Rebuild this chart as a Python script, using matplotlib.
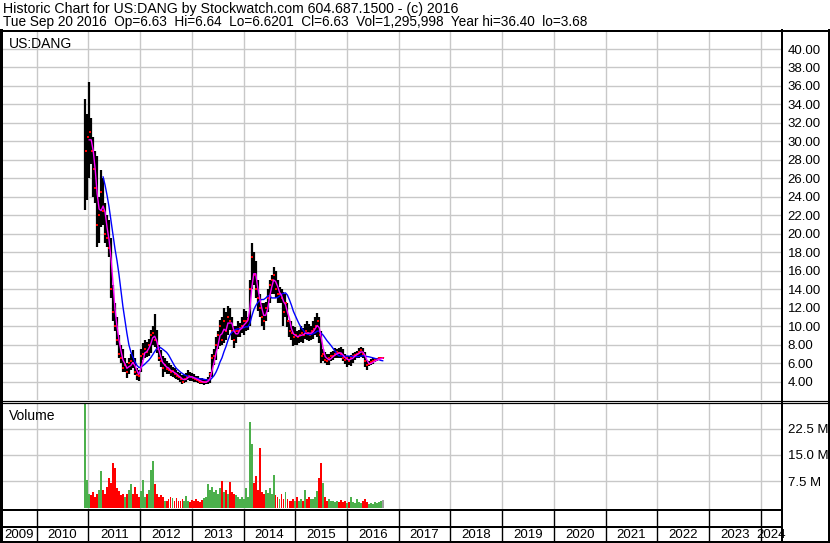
import numpy as np
import pandas as pd
import matplotlib
matplotlib.use('Agg')
import matplotlib.pyplot as plt
from matplotlib.lines import Line2D

plt.rcParams['font.family'] = ['Liberation Sans', 'DejaVu Sans']

# biweekly bars from 2010-12-10 (prices in USD, volume in millions)
high = [34.6, 33.0, 36.4, 32.5, 30.5, 29.0, 28.4, 24.0, 26.9, 26.0,
        23.3, 22.0, 21.5, 19.5, 14.5, 12.5, 11.0, 9.0, 8.0, 7.5,
        6.5, 6.0, 6.5, 7.0, 7.4, 6.5, 5.5, 5.2, 7.5, 8.2,
        8.5, 8.3, 8.6, 9.6, 10.0, 11.3, 9.6, 8.0, 7.4, 6.8,
        6.5, 6.2, 6.0, 5.8, 5.6, 5.5, 5.2, 5.0, 4.9, 4.7,
        4.8, 4.9, 5.2, 5.0, 4.9, 4.8, 4.6, 4.6, 4.4, 4.4,
        4.3, 4.3, 4.5, 5.0, 7.0, 7.5, 8.8, 9.5, 10.7, 11.0,
        12.0, 11.5, 12.2, 12.0, 11.0, 10.0, 10.0, 10.5, 10.3, 11.0,
        11.9, 11.6, 11.0, 15.0, 19.0, 18.0, 17.0, 15.0, 13.5, 12.5,
        12.5, 12.6, 14.0, 15.0, 15.5, 16.4, 16.0, 15.0, 14.2, 14.0,
        13.7, 13.5, 12.5, 10.7, 10.5, 10.0, 9.9, 9.5, 9.6, 10.0,
        9.8, 10.2, 10.5, 10.2, 10.0, 10.5, 11.0, 11.4, 11.0, 9.5,
        7.5, 7.2, 7.0, 7.0, 7.2, 7.3, 7.6, 7.5, 7.6, 7.7,
        7.5, 7.0, 6.8, 6.8, 6.9, 7.1, 7.2, 7.3, 7.6, 7.7,
        7.6, 7.2, 6.3, 6.2, 6.4, 6.5, 6.5, 6.6, 6.7, 6.7,
        6.7]
low = [22.6, 23.7, 26.0, 27.5, 24.0, 23.3, 18.6, 19.0, 20.7, 21.0,
       19.0, 18.6, 17.5, 13.0, 10.5, 9.5, 8.0, 6.5, 6.0, 5.0,
       5.0, 4.4, 4.8, 5.3, 5.5, 4.7, 4.2, 4.1, 5.0, 6.3,
       6.5, 6.7, 6.8, 7.1, 8.0, 7.7, 7.1, 6.2, 5.6, 4.5,
       5.0, 4.8, 4.8, 4.6, 4.5, 4.4, 4.3, 4.2, 4.0, 3.7,
       3.8, 4.0, 4.2, 4.1, 4.1, 4.0, 3.9, 3.8, 3.7, 3.7,
       3.6, 3.7, 3.7, 3.8, 4.5, 5.8, 6.3, 7.5, 7.8, 8.0,
       8.2, 8.5, 9.0, 9.6, 8.5, 7.6, 8.2, 8.8, 8.8, 9.2,
       9.0, 9.5, 9.6, 10.0, 14.0, 14.5, 13.0, 11.6, 11.0, 10.0,
       9.6, 10.5, 11.5, 12.5, 13.5, 13.5, 13.0, 12.5, 12.5, 12.5,
       10.0, 11.0, 9.9, 8.8, 8.5, 7.8, 8.0, 8.0, 8.2, 8.3,
       8.2, 8.6, 8.5, 8.4, 8.5, 8.6, 9.0, 8.8, 8.2, 6.0,
       6.2, 6.0, 5.8, 5.8, 6.2, 6.3, 6.5, 6.5, 6.6, 6.6,
       6.2, 5.9, 5.6, 5.8, 5.7, 6.0, 6.3, 6.5, 6.6, 6.7,
       6.5, 5.6, 5.3, 5.7, 5.8, 5.9, 6.1, 6.2, 6.3, 6.4,
       6.5]
close = [29.0, 30.5, 31.0, 29.0, 27.0, 25.0, 21.0, 22.0, 24.5, 22.5,
         20.0, 19.5, 18.5, 14.0, 11.5, 10.0, 8.5, 7.0, 6.5, 5.5,
         5.8, 5.0, 6.0, 6.2, 6.0, 5.0, 4.7, 4.6, 6.8, 7.0,
         7.5, 7.2, 8.0, 9.0, 9.2, 8.5, 7.5, 6.5, 6.2, 5.5,
         5.8, 5.4, 5.2, 5.0, 5.1, 4.8, 4.6, 4.5, 4.3, 4.0,
         4.3, 4.5, 4.6, 4.5, 4.4, 4.3, 4.2, 4.1, 4.0, 3.9,
         3.9, 4.0, 4.2, 4.8, 6.5, 6.8, 8.0, 9.0, 10.0, 8.5,
         10.5, 9.5, 11.0, 10.5, 9.5, 8.5, 9.5, 9.5, 9.8, 10.0,
         10.5, 10.5, 10.8, 14.0, 17.5, 15.5, 14.0, 13.0, 12.0, 11.0,
         10.5, 12.0, 13.0, 14.5, 15.0, 15.5, 14.0, 13.5, 13.5, 13.0,
         11.5, 12.5, 10.5, 9.5, 9.2, 8.8, 9.0, 8.8, 9.0, 9.2,
         9.0, 9.5, 9.2, 9.0, 9.5, 9.7, 10.0, 10.5, 9.0, 6.8,
         7.0, 6.3, 6.2, 6.5, 6.8, 6.8, 7.0, 7.2, 7.1, 7.0,
         6.5, 6.3, 6.5, 6.2, 6.6, 6.8, 6.9, 7.0, 7.2, 7.4,
         7.0, 6.2, 5.8, 5.9, 6.1, 6.2, 6.3, 6.4, 6.5, 6.5,
         6.6]
volume = [36, 8, 4, 3.5, 4.5, 3, 4, 5, 10.5, 5,
          4, 6, 8.4, 7, 12.7, 11.2, 5.6, 4.7, 3.5, 4,
          3, 4, 5, 6.7, 4, 6, 4, 3, 4.7, 8,
          3, 4, 5, 10.8, 13.4, 6.6, 4, 3, 3.5, 3,
          2, 2, 2.5, 3, 2.8, 2, 2.8, 2, 1.8, 2.5,
          2, 3.3, 2, 1.5, 2.2, 1.8, 2.5, 2, 1.5, 2.2,
          2.8, 3, 6.6, 5, 6, 4.5, 5, 4, 5.6, 7.5,
          4.5, 5, 4, 7.3, 4.5, 4, 3.5, 3, 2.5, 3,
          2.5, 5.6, 3, 24.4, 18, 7, 8.9, 5, 16.9, 4.5,
          4, 5, 4.2, 5.5, 4, 9.4, 3.5, 3, 2.5, 4,
          2.5, 4.5, 2.5, 2, 1.8, 2.5, 2, 3, 2, 2.5,
          2, 4.9, 2.5, 3, 2.5, 2.5, 3, 4.7, 8.4, 12.7,
          7, 3, 2, 2.5, 2, 1.8, 1.5, 2, 1.5, 2.2,
          1.5, 2, 1.2, 1.5, 3.1, 1.5, 1.2, 2.5, 1.5, 1.2,
          1.8, 2.5, 1.5, 1, 1.2, 1, 1.5, 1.2, 1.5, 2,
          2.2]

years = list(range(2009, 2025))
price_ticks = list(range(4, 41, 2))
vol_ticks = [7.5, 15.0, 22.5]
title1 = 'Historic Chart for US:DANG by Stockwatch.com 604.687.1500 - (c) 2016'
title2 = ('Tue Sep 20 2016  Op=6.63  Hi=6.64  Lo=6.6201  Cl=6.63  '
          'Vol=1,295,998  Year hi=36.40  lo=3.68')

W, H = 830, 543
fig = plt.figure(figsize=(8.3, 5.43), dpi=100)


def box(l, t, r, b):
    return [l / W, 1 - b / H, (r - l) / W, (b - t) / H]


dates = pd.date_range('2010-12-10', periods=len(close), freq='14D')
x = np.asarray(dates.year + (dates.dayofyear - 1) / 365.25)
s = pd.Series(close)
ma_short = s.rolling(3).mean()
ma_long = s.rolling(10).mean()
xmin, xmax = 2009.33, 2024.41
grid = '#c8c8c8'
tick_font = 9.5

# price panel
ax = fig.add_axes(box(2, 31, 782, 400))
ax.set_xlim(xmin, xmax)
ax.set_ylim(2, 41.95)
for yr in years[1:]:
    ax.axvline(yr, color=grid, lw=1, zorder=0)
for p in price_ticks:
    ax.axhline(p, color=grid, lw=1, zorder=0)
ax.vlines(x, low, high, color='black', lw=1.6, zorder=2)
ax.scatter(x + 0.006, close, s=3, marker='s', color='red', lw=0, zorder=3)
ax.plot(x, ma_long, color='blue', lw=1, zorder=4)
ax.plot(x, ma_short, color='magenta', lw=1, zorder=5)
ax.yaxis.tick_right()
ax.set_yticks(price_ticks)
ax.set_yticklabels([f'{p:.2f}' for p in price_ticks])
ax.tick_params(axis='y', length=0, pad=4, labelsize=tick_font)
ax.set_xticks([])
for sp in ax.spines.values():
    sp.set_visible(False)
ax.text(0.009, 0.985, 'US:DANG', transform=ax.transAxes, fontsize=10,
        va='top', ha='left')

# volume panel
vx = fig.add_axes(box(2, 403, 782, 509))
vx.set_xlim(xmin, xmax)
vx.set_ylim(-0.4, 29.8)
for yr in years[1:]:
    vx.axvline(yr, color=grid, lw=1, zorder=0)
for v in vol_ticks:
    vx.axhline(v, color=grid, lw=1, zorder=0)
colors = ['#4cb04c' if i == 0 or close[i] >= close[i - 1] else '#ff0000'
          for i in range(len(close))]
colors[-1] = '#a0a0a0'
vx.bar(x, volume, width=0.036, color=colors, lw=0, zorder=2)
vx.yaxis.tick_right()
vx.set_yticks(vol_ticks)
vx.set_yticklabels([f'{v:.1f} M' for v in vol_ticks])
vx.tick_params(axis='y', length=0, pad=4, labelsize=tick_font)
vx.set_xticks([])
for sp in vx.spines.values():
    sp.set_visible(False)
vx.text(0.009, 0.94, 'Volume', transform=vx.transAxes, fontsize=10,
        va='top', ha='left')

# year strip
yx = fig.add_axes(box(2, 509, 782, 541))
yx.set_xlim(xmin, xmax)
yx.set_ylim(32, 0)
yx.axis('off')
for yr in years[1:]:
    yx.vlines(yr, 0, 32, color='black', lw=1)
for yr in years:
    a = max(yr, xmin)
    b = min(yr + 1, xmax)
    yx.text((a + b) / 2, 25.5, str(yr), ha='center', va='center',
            fontsize=tick_font, clip_on=False)

# frame lines in pixel space
fr = fig.add_axes([0, 0, 1, 1])
fr.set_xlim(0, W)
fr.set_ylim(H, 0)
fr.axis('off')
fr.patch.set_alpha(0)
pt = 72 / 100
segs = [((0, 830), (30.5, 30.5), 2), ((1, 1), (30, 542), 3),
        ((828.5, 828.5), (30, 542), 2), ((781.5, 781.5), (30, 542), 2),
        ((0, 830), (400.5, 400.5), 1.2), ((0, 830), (402.7, 402.7), 1.2),
        ((0, 782), (509.5, 509.5), 2), ((0, 782), (526.5, 526.5), 2),
        ((0, 830), (541.8, 541.8), 2)]
for xs, ys, w in segs:
    fr.add_line(Line2D(xs, ys, color='black', lw=w * pt))

fig.text(3 / W, 1 - 9 / H, title1, fontsize=10.15, va='center', ha='left')
fig.text(3 / W, 1 - 22 / H, title2, fontsize=9.85, va='center', ha='left')

fig.savefig('out.png', dpi=100)
